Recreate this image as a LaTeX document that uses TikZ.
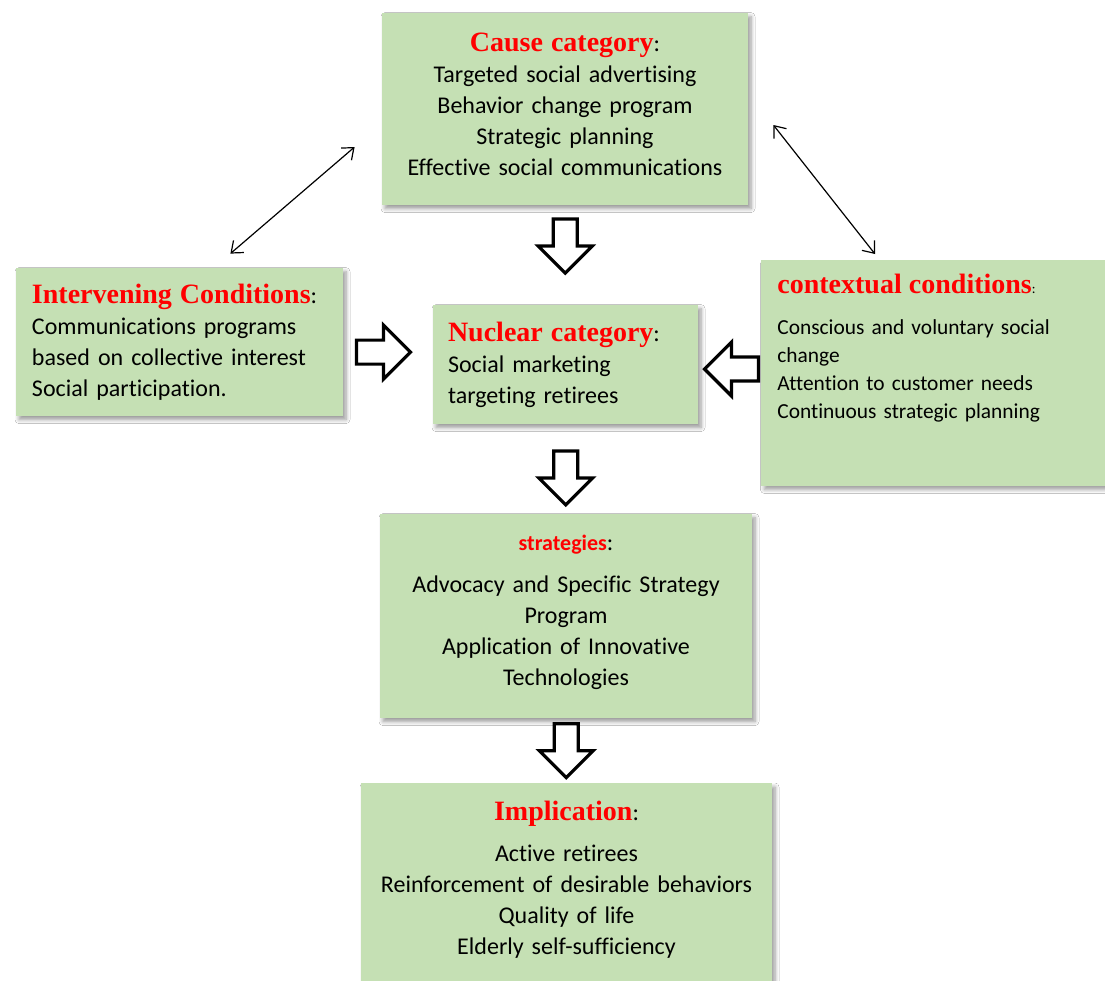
\documentclass[tikz,border=0pt]{standalone}
\usepackage{fontspec}
\setmainfont{Carlito}[Ligatures=NoCommon]
\newfontfamily\headfont{Liberation Serif}
\usetikzlibrary{calc,arrows.meta,shadows.blur}
\definecolor{boxgreen}{RGB}{197,224,180}
\definecolor{headred}{RGB}{255,0,0}
\newcommand{\cathead}[1]{{\headfont\fontsize{14}{16}\selectfont\bfseries\color{headred}#1}}
\begin{document}
\begin{tikzpicture}[x=0.5pt, y=-0.5pt,
		catbox/.style={fill=boxgreen, inner xsep=8pt, inner ysep=7pt, font=\fontsize{12}{15.5}\selectfont,
			blur shadow={shadow xshift=1.5pt, shadow yshift=-1.8pt, shadow blur radius=2pt, shadow blur steps=6}},
		dblarrow/.style={line width=0.6pt, {Straight Barb[length=5pt,width=8pt]}-{Straight Barb[length=5pt,width=8pt]}},
		pics/blockarrow/.style={code={
			\draw[line width=1.6pt, fill=white, line join=miter] (-27,-12) -- (0,-12) -- (0,-27) -- (27,0) -- (0,27) -- (0,12) -- (-27,12) -- cycle;}}]
	\path[use as bounding box, fill=white] (0,0) rectangle (1105,981);
	\node[catbox, text width=167pt, align=center, minimum height=96pt] (cause) at (565,109)
		{\cathead{Cause category}:\\ Targeted social advertising\\ Behavior change program\\ Strategic planning\\ Effective social communications\rule[-5pt]{0pt}{5pt}};
	\node[catbox, text width=147.5pt, align=left, minimum height=74pt] (intervening) at (179.5,342)
		{\cathead{Intervening Conditions}:\\ Communications programs\\ based on collective interest\\ Social participation.};
	\node[catbox, inner xsep=7.5pt, text width=117.5pt, align=left, minimum height=59.5pt] (nuclear) at (565.5,364.5)
		{\cathead{Nuclear category}:\\ Social marketing\\ targeting retirees};
	\node[catbox, anchor=north west, text width=161pt, align=left, font=\fontsize{10.7}{14}\selectfont] (contextual) at (761,260)
		{\cathead{contextual conditions}{\fontsize{7}{8}\selectfont:}\\[6.5pt] Conscious and voluntary social\\ change\\ Attention to customer needs\\ Continuous strategic planning\\[12.5pt]\mbox{}};
	\node[catbox, text width=170pt, align=center, minimum height=102pt] (strategies) at (566,616)
		{{\bfseries\fontsize{11}{13}\selectfont\color{headred}strategies}:\\[5.5pt] Advocacy and Specific Strategy\\ Program\\ Application of Innovative\\ Technologies\rule[-6pt]{0pt}{6pt}};
	\node[catbox, anchor=north, inner ysep=9pt, text width=189.5pt, align=center] (implication) at (566.5,783)
		{\cathead{Implication}:\\[5pt] Active retirees\\ Reinforcement of desirable behaviors\\ Quality of life\\ Elderly self-sufficiency\\[40pt]\mbox{}};
	\pic[rotate=-90] (arrcause) at ($(cause.south)!0.41!(nuclear.north)$) {blockarrow};
	\pic (arrinter) at ($(intervening.east)!0.45!(nuclear.west)$ |- nuclear) {blockarrow};
	\pic[rotate=180] (arrcontext) at ($(nuclear.east)!0.53!(contextual.west)$ |- nuclear) {blockarrow};
	\pic[rotate=-90] (arrnuclear) at ($(nuclear.south)!0.6!(strategies.north)$) {blockarrow};
	\pic[rotate=-90] (arrstrat) at ($(strategies.south)!0.5!(implication.north)$) {blockarrow};
	\draw[dblarrow] ($(intervening.north east)+(-113,-14)$) -- ($(cause.west)+(-27,38)$);
	\draw[dblarrow] ($(cause.east)+(25,16)$) -- ($(contextual.north west)+(114,-6)$);
\end{tikzpicture}
\end{document}
